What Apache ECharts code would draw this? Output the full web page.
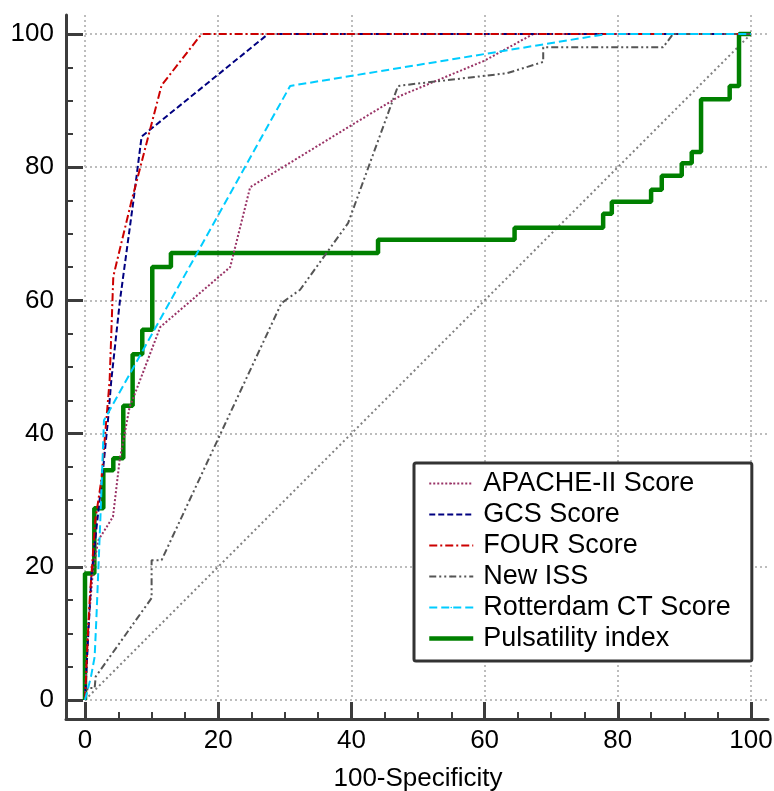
<!DOCTYPE html>
<html>
<head>
<meta charset="utf-8">
<script src="https://cdn.jsdelivr.net/npm/echarts@6/dist/echarts.min.js"></script>
<style>
  html, body { margin: 0; padding: 0; background: #fff; }
  #chart { width: 774px; height: 791px; }
</style>
</head>
<body>
<div id="chart"></div>
<script>
// ROC curves, points are [100-Specificity, Sensitivity]
var apache = [[0, 0], [0.4, 10], [1.2, 19.5], [2, 24], [4.2, 27.5], [5.2, 36], [6.7, 44], [7.5, 46],
  [11.3, 56], [21.8, 65], [24.8, 77], [40, 86.3], [47.3, 90.7], [60, 96], [67.3, 100], [100, 100]];
var gcs = [[0, 0], [0.5, 10], [0.95, 18.5], [1.85, 27], [2.7, 34.5], [3.45, 42], [3.95, 48], [5.25, 60],
  [7.25, 74.8], [8.5, 84.6], [27.5, 100], [100, 100]];
var four = [[0, 0], [0.35, 8], [0.7, 15], [1.55, 27], [2.45, 33], [3.2, 42], [3.7, 48], [4.25, 63.6],
  [7, 75], [11.5, 92.3], [17.5, 100], [100, 100]];
var newIss = [[0, 0], [0.4, 1.8], [1.45, 1.8], [1.6, 3.5], [10, 15.3], [10, 21], [11.5, 21], [29.5, 59.6],
  [32.3, 61.6], [39.5, 71.6], [47, 92.2], [50.3, 92.6], [63.3, 94.1], [68.8, 95.8], [68.8, 98],
  [86.8, 98], [88.3, 100], [100, 100]];
var rotterdam = [[0, 0], [0.9, 3.5], [1.45, 6.5], [1.7, 12], [2.3, 27], [2.85, 42], [30.8, 92.2],
  [78.3, 100], [100, 100]];
// step curve: each point is reached by going up first, then right
var pulsatility = [[0, 0], [1.4, 19], [2.75, 28.8], [4.25, 34.5], [5.75, 36.3], [7.15, 44.2], [8.6, 51.9],
  [10.1, 55.6], [12.9, 65], [44, 67.1], [64.5, 69.1], [77.8, 70.9], [79.1, 73], [85, 74.8], [86.6, 76.6],
  [89.6, 78.7], [91.1, 80.6], [92.5, 82.3], [96.8, 90.2], [98.2, 92.2], [100, 100]];
var diagonal = [[0, 0], [100, 100]];

var names = ['APACHE-II Score', 'GCS Score', 'FOUR Score', 'New ISS', 'Rotterdam CT Score', 'Pulsatility index'];

var FONT = '"Liberation Sans", Arial, sans-serif';
var AXIS_COLOR = '#3c3c3c';
var UNIT = 6.66; // px per percent
var gridRight = 6, gridTop = 15;
var xExtMax = (774 - 85 - gridRight) / UNIT;
var yExtMax = (791 - 91 - gridTop) / UNIT;

function extend(a, extra) {
  for (var k in extra) a[k] = extra[k];
  return a;
}

function hidden(extra) {
  return extend({
    type: 'value', min: 0, max: 1, axisLine: { show: false }, axisTick: { show: false },
    axisLabel: { show: false }, splitLine: { show: false }
  }, extra);
}

// axis that only carries ticks and labels, its line sits on the frame
function scaleAxis(extra) {
  return extend({
    type: 'value', min: 0, max: 100, interval: 20,
    axisLine: { show: false },
    axisTick: { show: true, inside: true, length: 17, lineStyle: { color: AXIS_COLOR, width: 3 } },
    minorTick: { show: true, splitNumber: 4, length: 7, lineStyle: { color: AXIS_COLOR, width: 2 } },
    splitLine: { show: false }
  }, extra);
}

function gridLines(max) {
  return hidden({
    min: 0, max: max, interval: 20, gridIndex: 3,
    splitLine: { show: true, showMaxLine: false, lineStyle: { color: '#bdbdbd', width: 2, type: [2, 3] } }
  });
}

function roc(name, data, color, width, dash, extra) {
  return extend({
    name: name, type: 'line', data: data, xAxisIndex: 3, yAxisIndex: 3,
    symbol: 'none', clip: false, silent: true,
    lineStyle: { color: color, width: width, type: dash },
    itemStyle: { color: color }
  }, extra);
}

var frameLine = { show: true, lineStyle: { color: AXIS_COLOR, width: 3 } };

var legendData = names.map(function (n, i) {
  return i === 5 ? { name: n, lineStyle: { width: 4.5 } } : { name: n };
});

var chart = echarts.init(document.getElementById('chart'));
chart.setOption({
  animation: false,
  backgroundColor: '#fff',
  grid: [
    { left: 66, top: gridTop, right: gridRight, bottom: 72, outerBoundsMode: 'none' },
    { left: 85, top: 34, width: 666, bottom: 72, outerBoundsMode: 'none' },
    { left: 66, top: 34, height: 666, right: 23, outerBoundsMode: 'none' },
    { left: 85, top: gridTop, right: gridRight, bottom: 91, outerBoundsMode: 'none' }
  ],
  xAxis: [
    hidden({ gridIndex: 0, axisLine: frameLine }),
    scaleAxis({
      gridIndex: 1, position: 'bottom',
      axisLabel: { color: '#000', fontSize: 26, fontFamily: FONT, margin: 9 },
      name: '100-Specificity', nameLocation: 'middle', nameGap: 47,
      nameTextStyle: { color: '#000', fontSize: 26, fontFamily: FONT }
    }),
    hidden({ gridIndex: 2 }),
    gridLines(xExtMax)
  ],
  yAxis: [
    hidden({ gridIndex: 0, axisLine: frameLine }),
    hidden({ gridIndex: 1 }),
    scaleAxis({
      gridIndex: 2, position: 'left',
      axisLabel: { color: '#000', fontSize: 26, fontFamily: FONT, margin: 12 }
    }),
    gridLines(yExtMax)
  ],
  legend: {
    left: 414, top: 463, orient: 'vertical',
    data: legendData,
    selectedMode: false,
    itemWidth: 44, itemHeight: 2, itemGap: 4,
    padding: [7, 21, 9, 13],
    backgroundColor: '#fff', borderColor: '#333', borderWidth: 3, borderRadius: 2,
    textStyle: { color: '#000', fontSize: 27, fontFamily: FONT, lineHeight: 26, padding: [0, 0, 0, 5] }
  },
  series: [
    roc('reference', diagonal, '#808080', 2, [2, 3]),
    roc(names[5], pulsatility, '#008000', 4.5, 'solid', { step: 'start' }),
    roc(names[0], apache, '#993366', 2, [2, 2]),
    roc(names[1], gcs, '#000080', 2, [6, 3]),
    roc(names[2], four, '#cc0000', 2, [8, 3, 2, 3]),
    roc(names[3], newIss, '#555555', 2, [7, 3, 2, 3, 2, 3]),
    roc(names[4], rotterdam, '#00ccff', 2, [8, 4])
  ]
});
</script>
</body>
</html>
